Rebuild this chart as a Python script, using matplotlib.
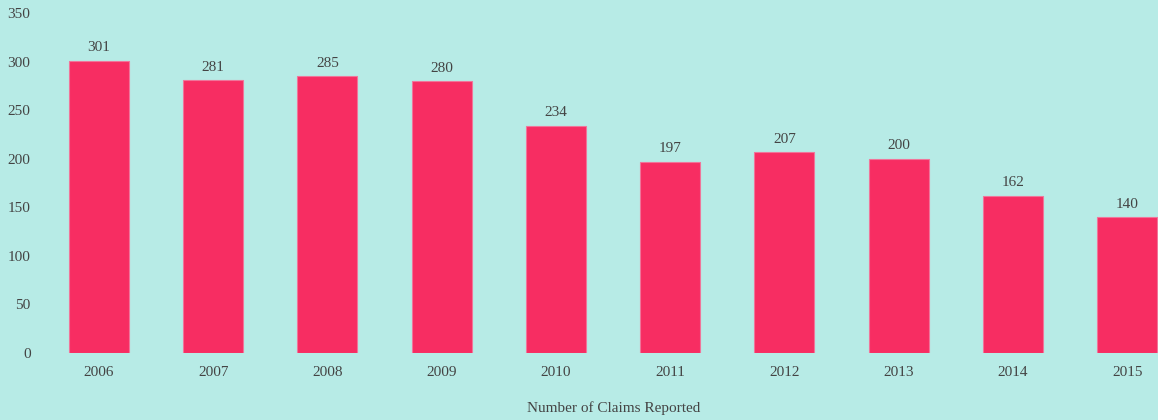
import matplotlib.pyplot as plt

years = ["2006", "2007", "2008", "2009", "2010", "2011", "2012", "2013", "2014", "2015"]
claims = [301, 281, 285, 280, 234, 197, 207, 200, 162, 140]

bg = "#b7ebe6"
bar_color = "#f72d62"
text_color = "#444444"

plt.rcParams['font.family'] = ['Liberation Serif', 'DejaVu Serif']

fig = plt.figure(figsize=(11.58, 4.2), dpi=100, facecolor=bg)
ax = fig.add_axes([43 / 1158, 1 - 353 / 420, (1158 - 43) / 1158, 340 / 420])
ax.set_facecolor(bg)

x = range(len(years))
bars = ax.bar(x, claims, width=0.525, color=bar_color, edgecolor="#f0759a", linewidth=0.8)

for rect, v in zip(bars, claims):
    ax.annotate(str(v), (rect.get_x() + rect.get_width() / 2, v),
                xytext=(0, 4.5), textcoords="offset points",
                ha="center", va="bottom", fontsize=11, color=text_color)

ax.set_xlim(-0.49, 9.27)
ax.set_ylim(0, 350)
ax.set_yticks(range(0, 351, 50))
ax.set_xticks(list(x))
ax.set_xticklabels(years)
ax.tick_params(length=0, labelsize=11, labelcolor=text_color)
ax.tick_params(axis="y", pad=9)
ax.tick_params(axis="x", pad=9)
for s in ax.spines.values():
    s.set_visible(False)

ax.set_xlabel("Number of Claims Reported", fontsize=11, color=text_color)
ax.xaxis.set_label_coords(0.512, -0.142)

fig.savefig("out.png", dpi=100, facecolor=bg)
